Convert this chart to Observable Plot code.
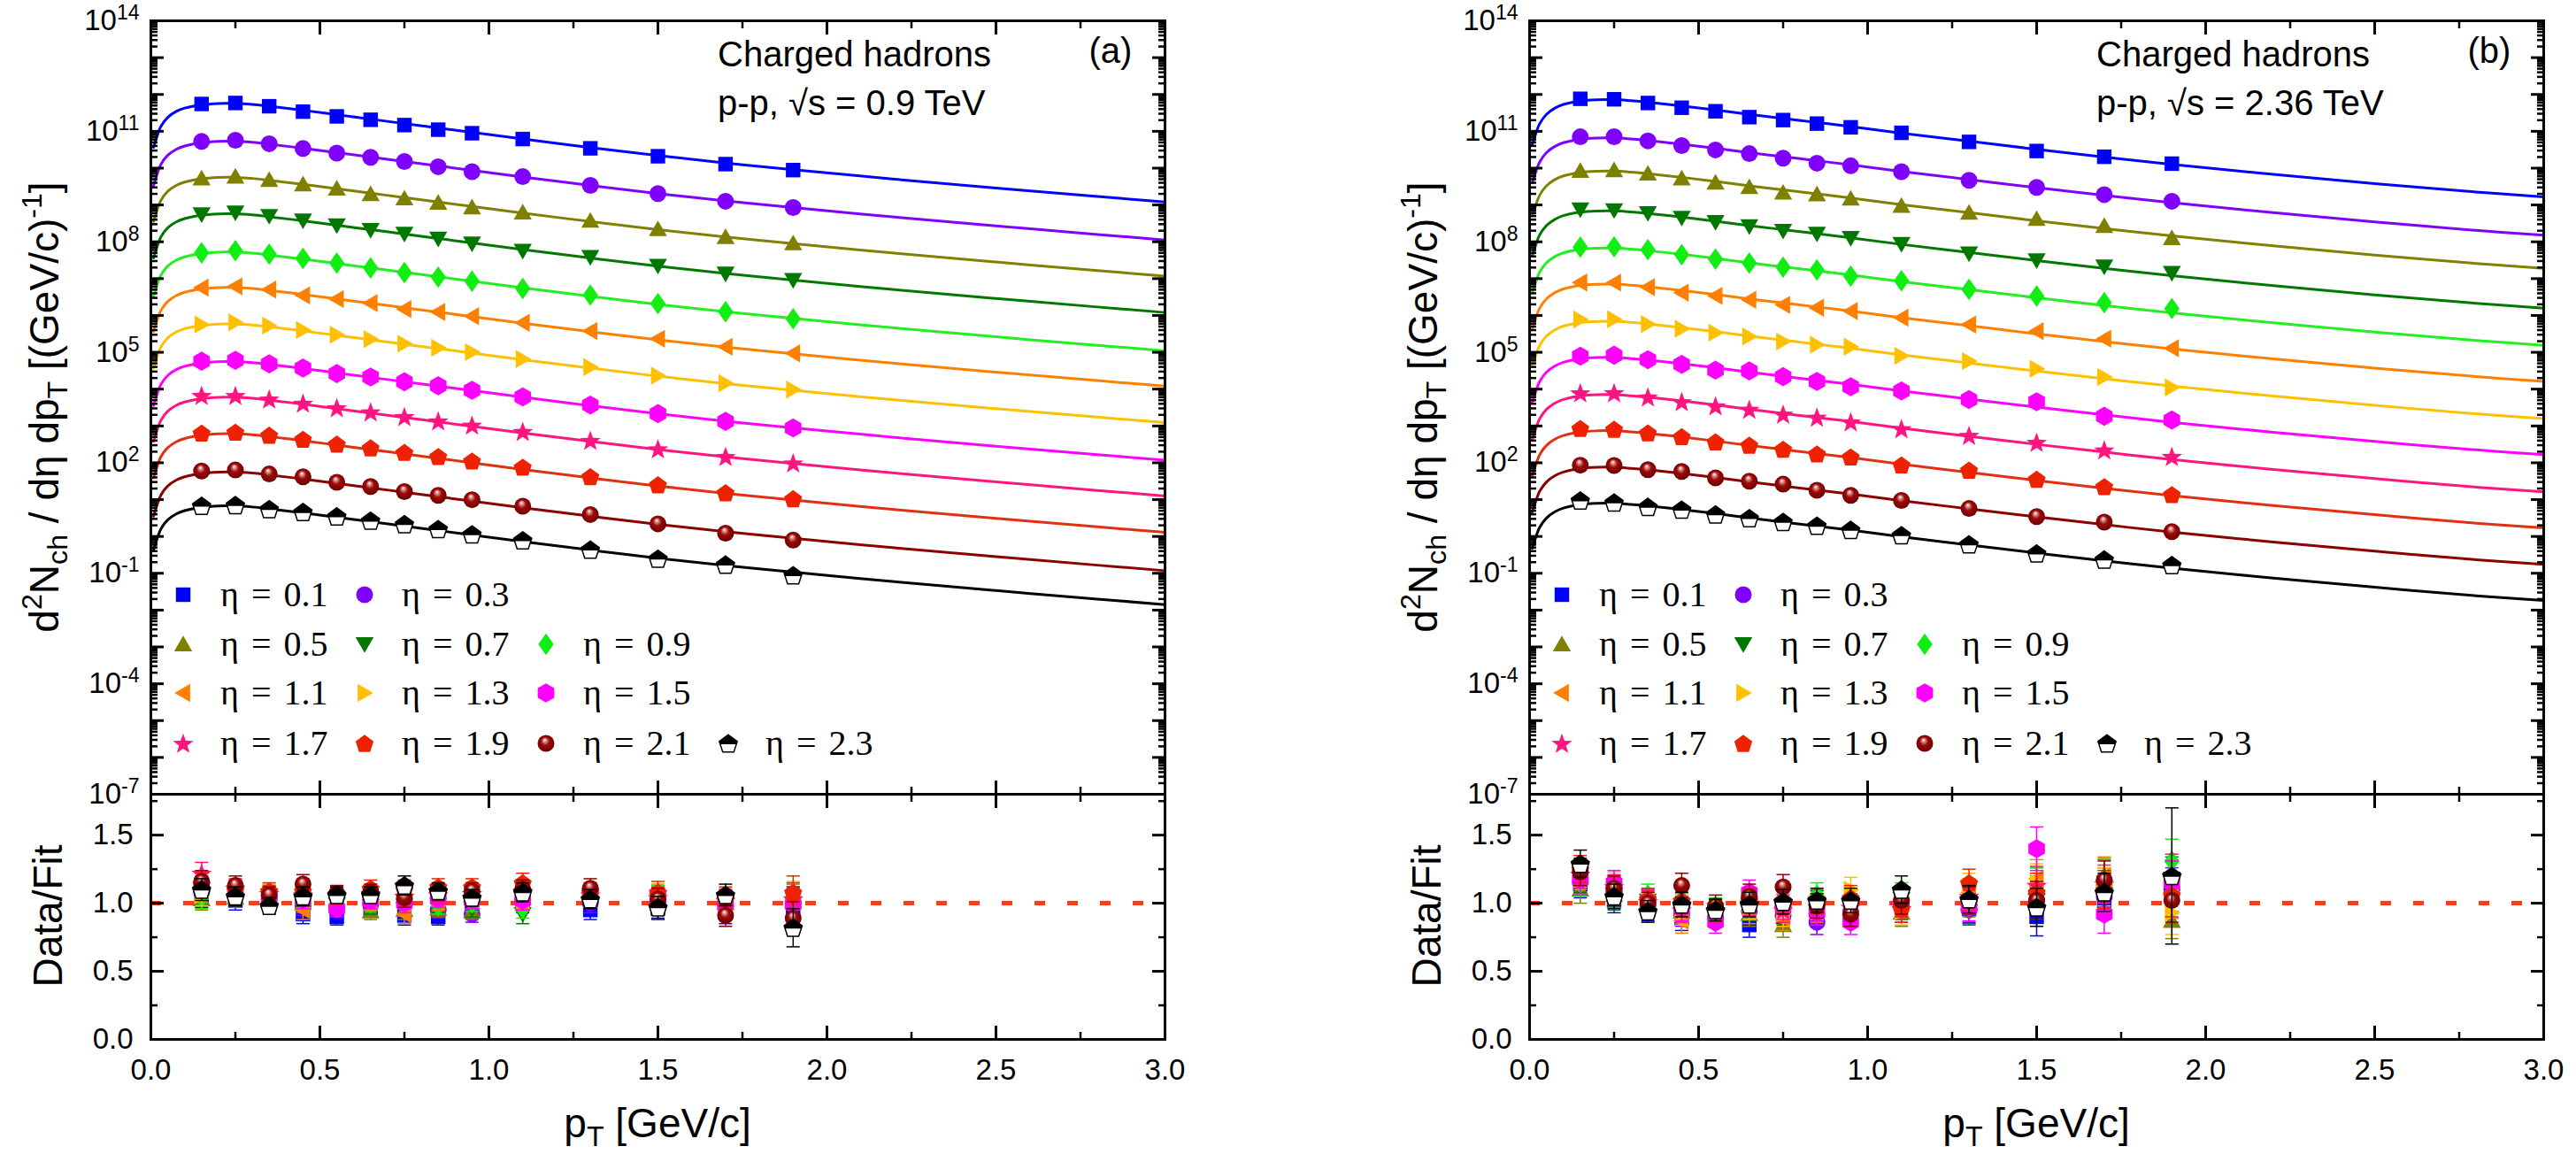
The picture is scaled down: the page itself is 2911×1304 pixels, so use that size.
<!DOCTYPE html>
<html><head><meta charset="utf-8">
<script src="https://cdn.jsdelivr.net/npm/d3@7"></script>
<script src="https://cdn.jsdelivr.net/npm/@observablehq/plot@0.6"></script>
<style>
body{margin:0;background:#fff;}
#chart{position:relative;width:2911px;height:1304px;overflow:hidden;background:#fff;}
#chart svg{position:absolute;}
</style></head><body>
<svg width="0" height="0" style="position:absolute;left:0;top:0">
 <defs>
  <radialGradient id="sphere" cx="50%" cy="50%" r="55%" fx="42%" fy="28%">
   <stop offset="0" stop-color="#ffffff"/>
   <stop offset="0.18" stop-color="#d89090"/>
   <stop offset="0.45" stop-color="#a00808"/>
   <stop offset="1" stop-color="#640000"/>
  </radialGradient>
 </defs>
</svg>
<div id="chart"></div>
<script>
// ---------------- data ----------------
const pT = [0.15,0.25,0.35,0.45,0.55,0.65,0.75,0.85,0.95,1.1,1.3,1.5,1.7,1.9];
const etaLabels = ["0.1","0.3","0.5","0.7","0.9","1.1","1.3","1.5","1.7","1.9","2.1","2.3"];
const colors = ["#0000ff","#8000ff","#808000","#007800","#11ee11","#ff8000","#ffc000","#ff00ff","#ff1480","#ee2200","#8b0000","#000000"];
const lineColors = ["#0000ff","#8000ff","#808000","#007800","#22ee22","#ff8000","#ffc000","#ff00ff","#ff1480","#e03010","#8b0000","#000000"];

// fit curve: log10 of the fit relative to its value at pT = 0.25
const fitPt = [0.008,0.02,0.03,0.05,0.075,0.1,0.15,0.2,0.25,0.3,0.35,0.45,0.55,0.65,0.75,0.85,0.95,1.1,1.3,1.5,1.7,1.9,2.2,2.5,2.8,3.0];
const fitShapeA = [-1.20,-0.85,-0.62,-0.38,-0.22,-0.13,-0.04,-0.005,0,-0.03,-0.08,-0.19,-0.31,-0.43,-0.55,-0.67,-0.79,-0.97,-1.20,-1.42,-1.62,-1.80,-2.06,-2.30,-2.53,-2.68];
const fitShapeB = [-1.22,-0.88,-0.65,-0.40,-0.23,-0.13,-0.035,-0.003,0,-0.03,-0.07,-0.17,-0.28,-0.40,-0.51,-0.62,-0.73,-0.91,-1.13,-1.35,-1.56,-1.76,-2.03,-2.28,-2.51,-2.64];
// log10 of fit at pT = 0.25 for each eta (scaled spectra)
const ampA = [11.76,10.73,9.75,8.76,7.72,6.76,5.77,4.75,3.78,2.79,1.75,0.83];
const ampB = [11.86,10.82,9.92,8.84,7.83,6.85,5.84,4.86,3.85,2.87,1.88,0.90];

// Data/Fit ratios (rows: eta, columns: pT)
const ratioA = [
 [1.05,1.02,1.00,0.92,0.90,0.96,0.91,0.90,0.95,1.00,0.95,0.96,0.93,0.97],
 [1.08,1.06,1.03,0.98,0.97,0.99,1.00,0.95,0.92,1.02,1.00,1.00,0.98,1.00],
 [1.03,1.04,1.02,1.00,1.01,0.94,0.95,0.96,0.94,1.04,1.05,1.03,1.00,1.02],
 [1.06,1.08,1.05,1.02,0.99,0.98,1.02,0.99,0.96,0.92,1.06,1.02,0.99,1.00],
 [1.04,1.09,1.06,1.04,1.03,1.00,0.99,0.98,1.00,0.96,1.08,1.05,1.00,0.98],
 [1.09,1.07,1.05,0.95,0.99,1.01,0.92,1.01,1.02,1.03,1.04,1.06,1.02,1.03],
 [1.06,1.10,1.08,1.06,1.04,1.04,1.03,1.05,1.06,1.04,1.07,1.04,1.03,1.04],
 [1.12,1.08,1.04,1.03,0.96,1.02,1.00,1.03,1.02,1.02,1.04,1.01,0.99,0.99],
 [1.22,1.11,1.07,1.06,1.05,1.07,1.05,1.06,1.07,1.09,1.06,1.04,1.02,1.03],
 [1.14,1.10,1.09,1.09,1.07,1.11,1.10,1.12,1.12,1.15,1.08,1.08,1.04,1.08],
 [1.16,1.13,1.06,1.14,1.07,1.08,1.04,1.08,1.09,1.10,1.11,1.03,0.91,0.89],
 [1.10,1.05,0.98,1.05,1.06,1.06,1.13,1.09,1.04,1.08,1.03,0.97,1.06,0.82]
];
const ratioB = [
 [1.14,1.02,0.95,0.89,0.92,0.84,0.90,0.93,0.95,1.02,0.96,0.90,1.02,1.05],
 [1.16,1.08,0.98,0.92,0.90,0.94,0.91,0.86,0.94,0.98,0.95,1.02,1.05,1.10],
 [1.10,1.06,1.00,0.94,0.93,0.92,0.84,0.97,0.96,0.93,1.00,1.12,1.18,0.87],
 [1.18,1.04,1.02,0.96,0.95,0.96,0.93,1.00,0.98,1.03,0.94,1.02,1.12,1.18],
 [1.15,1.08,1.06,0.98,0.96,0.98,0.98,1.06,0.93,1.05,1.02,1.12,1.19,1.31],
 [1.20,1.10,0.97,0.87,0.92,0.94,0.89,0.95,1.00,1.00,1.08,1.18,1.20,1.05],
 [1.22,1.14,0.99,0.93,0.94,0.97,0.92,0.97,1.10,0.94,1.12,1.15,1.12,0.93],
 [1.17,1.15,1.02,0.96,0.86,1.08,0.97,0.93,0.86,1.00,0.97,1.40,0.92,1.15],
 [1.21,1.12,1.01,0.95,0.94,1.00,0.95,1.01,0.97,0.96,1.05,1.13,1.14,1.20],
 [1.25,1.10,1.03,1.02,0.95,1.02,1.02,0.98,1.04,0.96,1.15,1.08,1.10,1.06],
 [1.23,1.11,1.00,1.13,0.98,1.05,1.12,0.98,0.92,1.02,1.02,1.02,1.17,1.02],
 [1.29,1.05,0.94,0.99,0.95,0.99,1.01,1.02,1.02,1.10,1.03,0.97,1.08,1.20]
];
// typical ratio uncertainty per pT, plus individual larger ones [eta index, pT index, error]
const errA = [0.08,0.07,0.06,0.07,0.06,0.06,0.07,0.06,0.06,0.07,0.07,0.08,0.08,0.12];
const errB = [0.10,0.09,0.08,0.09,0.08,0.09,0.09,0.09,0.09,0.10,0.10,0.14,0.14,0.16];
const bigErrA = [[11,13,0.14]];
const bigErrB = [[11,13,0.50],[2,13,0.13],[7,11,0.16]];

const legendRows = [[0,1],[2,3,4],[5,6,7],[8,9,10,11]];
const yLabelExps = [-7,-4,-1,2,5,8,11,14];
const yDecades = d3.range(-7,15);
const xMajor = [0,0.5,1,1.5,2,2.5,3];
const xMinor = [0.25,0.75,1.25,1.75,2.25,2.75];
const rMajor = [0,0.5,1,1.5];
const rMinor = [0.25,0.75,1.25,1.75];

// ---------------- symbols ----------------
const mk = f => ({draw(ctx,size){ f(ctx, Math.sqrt(size/Math.PI)); }});
function pts(ctx,p){ p.forEach(([x,y],i)=> i?ctx.lineTo(x,y):ctx.moveTo(x,y)); ctx.closePath(); }
function regular(n,R,rot){ return d3.range(n).map(i=>{const a=rot+2*Math.PI*i/n; return [R*Math.sin(a),-R*Math.cos(a)];}); }
const symSquare = mk((c,h)=>{const s=0.82*h; pts(c,[[-s,-s],[s,-s],[s,s],[-s,s]]);});
const symCircle = mk((c,h)=>{const r=0.95*h; c.moveTo(r,0); c.arc(0,0,r,0,2*Math.PI);});
const symTriUp = mk((c,h)=>pts(c,regular(3,1.18*h,0).map(([x,y])=>[x,y+0.2*h])));
const symTriDown = mk((c,h)=>pts(c,regular(3,1.18*h,Math.PI).map(([x,y])=>[x,y-0.2*h])));
const symTriLeft = mk((c,h)=>pts(c,regular(3,1.18*h,-Math.PI/2).map(([x,y])=>[x+0.2*h,y])));
const symTriRight = mk((c,h)=>pts(c,regular(3,1.18*h,Math.PI/2).map(([x,y])=>[x-0.2*h,y])));
const symDiamond = mk((c,h)=>pts(c,[[0,-1.22*h],[0.87*h,0],[0,1.22*h],[-0.87*h,0]]));
const symHex = mk((c,h)=>pts(c,regular(6,1.08*h,0)));
const symStar = mk((c,h)=>pts(c,d3.range(10).map(i=>{const R=i%2?0.5*h:1.22*h; const a=Math.PI*i/5; return [R*Math.sin(a),-R*Math.cos(a)+0.1*h];})));
const symPent = mk((c,h)=>pts(c,regular(5,1.07*h,0).map(([x,y])=>[x,y+0.1*h])));
const symHalfPent = mk((c,h)=>{const R=1.07*h, d=0.1*h; const v=regular(5,R,0);
  pts(c,[[-0.8507*R,d],[v[4][0],v[4][1]+d],[v[0][0],v[0][1]+d],[v[1][0],v[1][1]+d],[0.8507*R,d]]);});
const symCap = mk((c,h)=>{c.moveTo(-h,0); c.lineTo(h,0);});
const syms = [symSquare,symCircle,symTriUp,symTriDown,symDiamond,symTriLeft,symTriRight,symHex,symStar,symPent,symCircle,symPent];
const R = 10;

// ---------------- helpers ----------------
const SANS = "Liberation Sans, Arial, sans-serif";
const SERIF = "Liberation Serif, Times New Roman, serif";

function build(amp, shape, ratio, err, bigErr){
  const fit=[], data=[];
  amp.forEach((a,k)=>{
    fitPt.forEach((p,i)=>fit.push({k, pt:p, v:10**(a+shape[i])}));
    pT.forEach((p,j)=>{
      const i=fitPt.indexOf(p); const r=ratio[k][j]; let e=err[j];
      for(const [bk,bj,be] of bigErr) if(bk===k&&bj===j) e=be;
      data.push({k, pt:p, r, e, v:10**(a+shape[i])*r});
    });
  });
  return {fit,data};
}
function dotMarks(rows,k,y){
  const s=rows.filter(d=>d.k===k); const o={x:"pt", y, r:R};
  if(k===11) return [Plot.dot(s,{...o,symbol:symPent,fill:"white",stroke:"black",strokeWidth:1.5}),
                     Plot.dot(s,{...o,symbol:symHalfPent,fill:"black"})];
  if(k===10) return [Plot.dot(s,{...o,symbol:symCircle,fill:"url(#sphere)"})];
  return [Plot.dot(s,{...o,symbol:syms[k],fill:colors[k]})];
}
function rich(parent,x,y,parts,{size,family=SANS,anchor="start",rotate=0}){
  const t=parent.append("text").attr("transform",`translate(${x},${y}) rotate(${rotate})`)
    .attr("font-size",size).attr("font-family",family).attr("text-anchor",anchor).attr("fill","black")
    .style("white-space","pre");
  let shift=0;
  for(const p of parts){
    const [str,kind]=Array.isArray(p)?p:[p,null];
    const ns = kind==="sup"?-0.42*size:kind==="sub"?0.22*size:0;
    t.append("tspan").attr("dy",ns-shift).attr("font-size",kind?size*0.7:size).text(str);
    shift=ns;
  }
  return t;
}
function label(parent,x,y,str,{size=40,family=SANS,anchor="start",wordSpacing=0}={}){
  return parent.append("text").attr("x",x).attr("y",y).attr("font-size",size).attr("font-family",family)
    .attr("text-anchor",anchor).attr("fill","black").style("white-space","pre")
    .style("word-spacing",wordSpacing+"px").text(str);
}
function ticksMarks(axis, anchor, major, minor){
  const A = axis==="x"?Plot.axisX:Plot.axisY;
  return [A(major,{anchor,tickSize:-15,strokeWidth:3,fill:"none",label:null}),
          A(minor,{anchor,tickSize:-8,strokeWidth:2.5,fill:"none",label:null})];
}
function place(svg,left,top){ svg.style.left=left+"px"; svg.style.top=top+"px"; svg.style.position="absolute"; return svg; }

const chart = document.getElementById("chart");

function panel(offsetX, width, mR, amp, shape, ratio, err, bigErr, tag, energy){
  const {fit,data} = build(amp,shape,ratio,err,bigErr);
  const logMajor = yDecades.map(e=>10**e);
  const logMinor = yDecades.slice(0,-1).flatMap(e=>[2,3,4,5,6,7,8,9].map(m=>m*10**e));
  const top = Plot.plot({
    width, height:900, marginLeft:170, marginRight:mR, marginTop:23, marginBottom:3,
    style:{background:"transparent", fontFamily:SANS, overflow:"visible"},
    x:{domain:[0,3]},
    y:{type:"log", domain:[1e-7,1e14]},
    marks:[
      Plot.line(fit,{x:"pt",y:"v",z:"k",stroke:d=>lineColors[d.k],strokeWidth:3,curve:"catmull-rom"}),
      ...d3.range(12).flatMap(k=>dotMarks(data,k,"v")),
      ...ticksMarks("y","left",logMajor,logMinor),
      ...ticksMarks("y","right",logMajor,logMinor),
      ...ticksMarks("x","top",xMajor,xMinor),
      ...ticksMarks("x","bottom",xMajor,xMinor),
      Plot.axisY(yLabelExps.map(e=>10**e),{anchor:"left",tickSize:0,tickPadding:13,fontSize:33,
        tickFormat:d=>String(Math.round(Math.log10(d))),label:null}),
      Plot.frame({stroke:"black",strokeWidth:3})
    ]
  });
  const st = d3.select(top);
  st.selectAll('g[aria-label="y-axis tick label"] text').each(function(){
    const e=this.textContent; this.textContent="";
    const t=d3.select(this);
    t.append("tspan").text("10");
    t.append("tspan").attr("dy",-12).attr("font-size",23).text(e);
  });
  rich(st,66,460,["d",["2","sup"],"N",["ch","sub"]," / dη dp",["T","sub"]," [(GeV/c)",["-1","sup"],"]"],
       {size:46,anchor:"middle",rotate:-90});
  label(st,811,75,"Charged hadrons");
  label(st,811,130,"p-p, √s = "+energy);
  label(st,1255,71,tag,{anchor:"middle"});
  // legend
  const legX=[207,412,617,823], legY=[672,728,783,840];
  const lg=st.append("g");
  legendRows.forEach((row,ri)=>row.forEach((k,ci)=>{
    const cx=legX[ci], cy=legY[ri], size=Math.PI*R*R;
    const tr=`translate(${cx},${cy})`;
    if(k===11){
      lg.append("path").attr("transform",tr).attr("d",d3.symbol(symPent,size)()).attr("fill","white").attr("stroke","black").attr("stroke-width",1.5);
      lg.append("path").attr("transform",tr).attr("d",d3.symbol(symHalfPent,size)()).attr("fill","black");
    } else {
      lg.append("path").attr("transform",tr).attr("d",d3.symbol(syms[k],size)()).attr("fill",k===10?"url(#sphere)":colors[k]);
    }
    label(lg,cx+42,cy+13,"η = "+etaLabels[k],{size:40,family:SERIF,wordSpacing:4});
  }));
  chart.appendChild(place(top,offsetX,0));

  const bot = Plot.plot({
    width, height:424, marginLeft:170, marginRight:mR, marginTop:17, marginBottom:130,
    style:{background:"transparent", fontFamily:SANS, overflow:"visible"},
    x:{domain:[0,3]},
    y:{domain:[0,1.8]},
    marks:[
      Plot.ruleY([1],{stroke:"#f04020",strokeWidth:5,strokeDasharray:"12 25"}),
      ...d3.range(12).flatMap(k=>{
        const s=data.filter(d=>d.k===k), c=colors[k];
        return [
          Plot.ruleX(s,{x:"pt",y1:d=>d.r-d.e,y2:d=>d.r+d.e,stroke:c,strokeWidth:1.5}),
          Plot.dot(s,{x:"pt",y:d=>d.r+d.e,symbol:symCap,r:7.5,stroke:c,strokeWidth:1.5,fill:"none"}),
          Plot.dot(s,{x:"pt",y:d=>d.r-d.e,symbol:symCap,r:7.5,stroke:c,strokeWidth:1.5,fill:"none"}),
          ...dotMarks(data,k,"r")
        ];
      }),
      ...ticksMarks("y","left",rMajor,rMinor),
      ...ticksMarks("y","right",rMajor,rMinor),
      ...ticksMarks("x","top",xMajor,xMinor),
      ...ticksMarks("x","bottom",xMajor,xMinor),
      Plot.axisY(rMajor,{anchor:"left",tickSize:0,tickPadding:20,fontSize:33,tickFormat:d3.format(".1f"),label:null}),
      Plot.axisX(xMajor,{anchor:"bottom",tickSize:0,tickPadding:22,fontSize:33,tickFormat:d3.format(".1f"),label:null}),
      Plot.frame({stroke:"black",strokeWidth:3})
    ]
  });
  const sb=d3.select(bot);
  rich(sb,70,155,["Data/Fit"],{size:46,anchor:"middle",rotate:-90});
  rich(sb,743,405,["p",["T","sub"]," [GeV/c]"],{size:46,anchor:"middle"});
  chart.appendChild(place(bot,offsetX,880));
}

panel(0,1460,144,ampA,fitShapeA,ratioA,errA,bigErrA,"(a)","0.9 TeV");
panel(1558,1353,37,ampB,fitShapeB,ratioB,errB,bigErrB,"(b)","2.36 TeV");
</script>
</body></html>
